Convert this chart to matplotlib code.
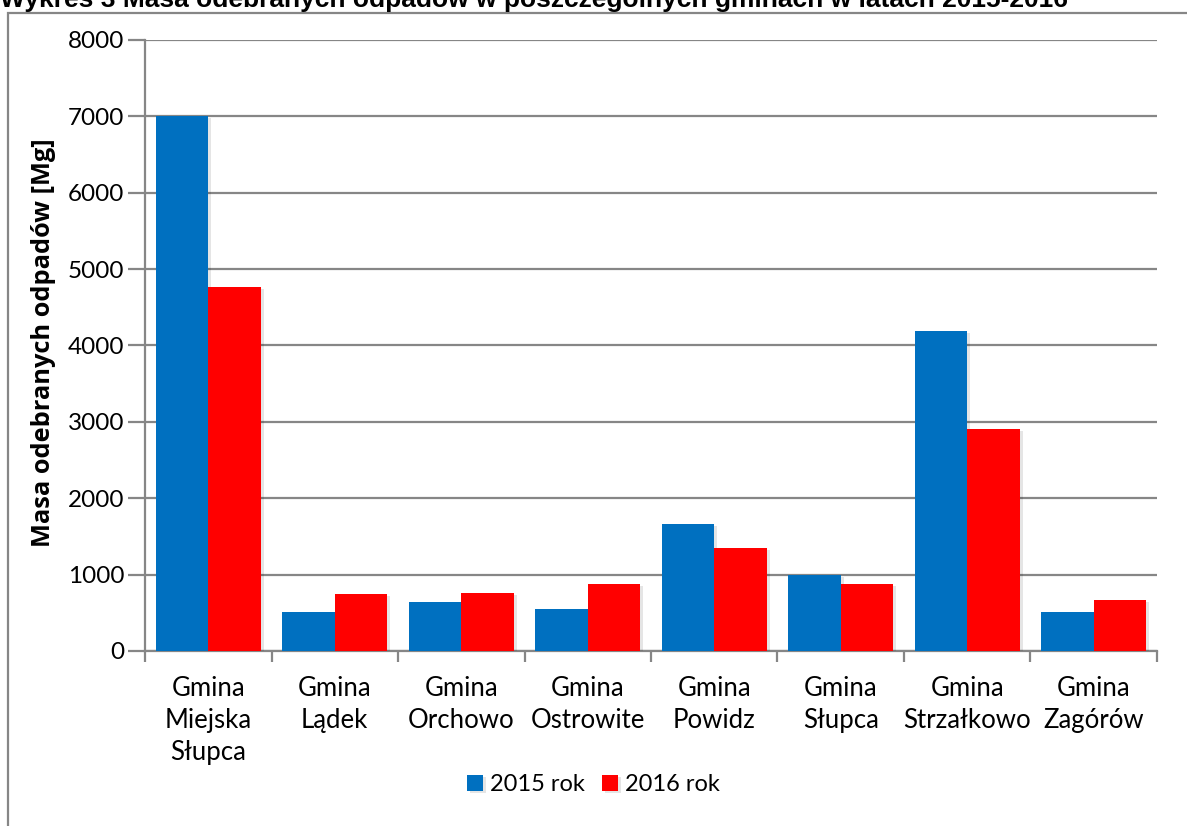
import numpy as np
import matplotlib
matplotlib.use("Agg")
from matplotlib import pyplot as plt
from matplotlib import patheffects as pe
from matplotlib.patches import Rectangle

gminy = ["Gmina\nMiejska\nSłupca", "Gmina\nLądek", "Gmina\nOrchowo", "Gmina\nOstrowite",
         "Gmina\nPowidz", "Gmina\nSłupca", "Gmina\nStrzałkowo", "Gmina\nZagórów"]
masa_2015 = [7000, 505, 645, 550, 1660, 995, 4188, 510]
masa_2016 = [4770, 746, 760, 877, 1345, 877, 2906, 668]
series_labels = ["2015 rok", "2016 rok"]
y_ticks = [0, 1000, 2000, 3000, 4000, 5000, 6000, 7000, 8000]

title = "Wykres 3 Masa odebranych odpadów w poszczególnych gminach w latach 2015-2016"
y_label = "Masa odebranych odpadów [Mg]"

blue = "#0070c0"
red = "#ff0000"
gray = "#868686"
tick_font = "Lato"

fig = plt.figure(figsize=(11.87, 8.26), dpi=100)
ax = fig.add_axes([0.1222, 0.2119, 0.8525, 0.7397])

# outer chart frame (runs off the right/bottom edge like in the source)
fig.patches.append(Rectangle((8 / 1187, -0.05), 1.2, 1 - 13 / 826 + 0.05,
                             transform=fig.transFigure, fill=False,
                             edgecolor=gray, linewidth=1.6))

x = np.arange(len(gminy))
w = 0.415
shadow = [pe.SimplePatchShadow(offset=(2, -1.5), shadow_rgbFace="black", alpha=0.1), pe.Normal()]
b1 = ax.bar(x - w / 2, masa_2015, w, color=blue, label=series_labels[0], zorder=3)
b2 = ax.bar(x + w / 2, masa_2016, w, color=red, label=series_labels[1], zorder=3)
for bar in list(b1) + list(b2):
    bar.set_path_effects(shadow)

ax.set_xlim(-0.5, len(gminy) - 0.5)
ax.set_ylim(0, 8000)
ax.set_yticks(y_ticks)
ax.set_xticks(x)
ax.set_xticklabels(gminy, fontfamily=tick_font, fontsize=18.5, linespacing=1.36)
ax.set_xticks(np.arange(len(gminy) + 1) - 0.5, minor=True)
ax.tick_params(axis="x", which="major", length=0, pad=18)
ax.tick_params(axis="x", which="minor", length=8, width=1.6, color=gray)
ax.tick_params(axis="y", length=12, width=1.6, color=gray, pad=3)
for lab in ax.get_yticklabels():
    lab.set_fontfamily(tick_font)
    lab.set_fontsize(17.5)

ax.grid(axis="y", color=gray, linewidth=1.6, zorder=0)
ax.set_axisbelow(True)
for side in ["top", "right"]:
    ax.spines[side].set_visible(False)
for side in ["left", "bottom"]:
    ax.spines[side].set_color(gray)
    ax.spines[side].set_linewidth(1.6)

ax.set_ylabel(y_label, fontfamily="Open Sans", fontweight="bold", fontsize=18.3)
ax.yaxis.set_label_coords(-0.088, 0.505)

fig.text(0.0, 1 - 7 / 826, title, fontfamily="Liberation Sans", fontweight="bold",
         fontsize=19, ha="left", va="baseline")

ax.legend(loc="center", bbox_to_anchor=(0.5, 0.05), bbox_transform=fig.transFigure,
          ncol=2, frameon=False, prop={"family": tick_font, "size": 17},
          handlelength=0.7, handleheight=0.7, handletextpad=0.3, columnspacing=0.7)

fig.savefig("out.png", dpi=100)
